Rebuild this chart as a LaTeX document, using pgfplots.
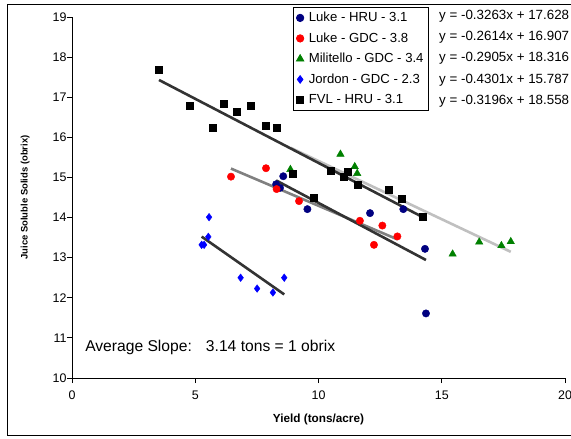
\documentclass[border=0pt]{standalone}
\usepackage{fontspec}
\setmainfont{Liberation Sans}
\usepackage{pgfplots}
\pgfplotsset{compat=1.18}
\definecolor{lukehru}{HTML}{000080}
\definecolor{lukegdc}{HTML}{FF0000}
\definecolor{milit}{HTML}{008000}
\definecolor{jordon}{HTML}{0000FF}
\definecolor{trdark}{HTML}{333333}
\definecolor{trmid}{HTML}{808080}
\definecolor{trlight}{HTML}{C0C0C0}

\begin{document}
\begin{tikzpicture}[x=1bp,y=1bp]
\begin{axis}[at={(72bp,61bp)}, anchor=south west,
  scale only axis, width=493bp, height=361bp,
  xmin=0, xmax=20, ymin=10, ymax=19,
  xtick={0,5,...,20}, ytick={10,11,...,19},
  axis x line=bottom, axis y line=left, axis line style={-, black, line width=0.8bp},
  tick align=outside, major tick length=5bp, tick style={black, line width=0.8bp},
  /pgf/number format/assume math mode=true,
  tick label style={font=\fontsize{12.5}{15}\selectfont},
  xticklabel style={yshift=-4bp}, yticklabel style={xshift=3bp},
  xlabel={Yield (tons/acre)}, ylabel={Juice Soluble Solids (obrix)},
  xlabel style={font=\bfseries\fontsize{11.8}{14}\selectfont, at={(axis description cs:0.5,-0.114)}, anchor=center},
  ylabel style={font=\bfseries\fontsize{9.5}{12}\selectfont, at={(axis description cs:-0.095,0.5)}, anchor=center},
  clip=false,
  legend style={at={(axis description cs:0.4483,1.0277)}, anchor=north west,
    draw=black, line width=0.8bp, font=\fontsize{13.2}{15}\selectfont,
    row sep=5.5bp, inner xsep=3bp, inner ysep=3bp,
    /tikz/every odd column/.append style={column sep=3bp}},
  legend cell align=left]
% Luke - HRU
\addplot[only marks, mark=*, mark size=3.7bp, mark options={fill=lukehru, draw=lukehru}] coordinates {
  (8.57,15.03) (8.28,14.83) (8.44,14.74) (9.55,14.21) (12.09,14.11) (13.44,14.21) (14.32,13.22) (14.36,11.61)};
\addlegendentry{Luke - HRU - 3.1}
% Luke - GDC
\addplot[only marks, mark=*, mark size=3.7bp, mark options={fill=lukegdc, draw=lukegdc}] coordinates {
  (6.45,15.02) (7.87,15.23) (8.30,14.71) (9.21,14.41) (11.68,13.92) (12.59,13.80) (13.20,13.53) (12.25,13.32)};
\addlegendentry{Luke - GDC - 3.8}
% Militello - GDC
\addplot[only marks, mark=triangle*, mark size=4.3bp, mark options={fill=milit, draw=milit}] coordinates {
  (8.86,15.20) (10.89,15.58) (11.47,15.27) (11.57,15.10) (15.44,13.09) (16.52,13.39) (17.42,13.30) (17.80,13.40)};
\addlegendentry{Militello - GDC - 3.4}
% Jordon - GDC
\addplot[only marks, mark=diamond*, mark size=3.8bp, mark options={fill=jordon, draw=jordon}] coordinates {
  (5.56,14.01) (5.53,13.52) (5.26,13.32) (5.36,13.32) (6.84,12.50) (7.51,12.23) (8.15,12.13) (8.61,12.50)};
\addlegendentry{Jordon - GDC - 2.3}
% FVL - HRU
\addplot[only marks, mark=square*, mark size=3.5bp, mark options={fill=black, draw=black}] coordinates {
  (3.53,17.69) (4.76,16.78) (5.72,16.23) (6.14,16.84) (6.67,16.63) (7.25,16.78) (7.87,16.28) (8.30,16.23)
  (8.94,15.09) (9.82,14.50) (10.51,15.17) (11.17,15.14) (11.01,15.02) (11.59,14.83) (12.83,14.70)
  (13.38,14.47) (14.24,14.01)};
\addlegendentry{FVL - HRU - 3.1}
% trendlines (end points of each fitted line over the series' range)
\addplot[forget plot, trlight, line width=2.6bp] coordinates {(8.86,15.742) (17.80,13.145)};
\addplot[forget plot, trmid, line width=2.6bp] coordinates {(6.45,15.221) (13.20,13.457)};
\addplot[forget plot, trdark, line width=2.6bp] coordinates {(8.28,14.926) (14.36,12.942)};
\addplot[forget plot, trdark, line width=2.6bp] coordinates {(5.26,13.525) (8.61,12.084)};
\addplot[forget plot, trdark, line width=2.6bp] coordinates {(3.53,17.430) (14.24,14.007)};
% equations
\begin{scope}[every node/.style={anchor=west, font=\fontsize{13.4}{15}\selectfont, inner sep=0pt}]
\node at (axis cs:14.89,19.02) {y = -0.3263x + 17.628};
\node at (axis cs:14.89,18.49) {y = -0.2614x + 16.907};
\node at (axis cs:14.89,17.96) {y = -0.2905x + 18.316};
\node at (axis cs:14.89,17.43) {y = -0.4301x + 15.787};
\node at (axis cs:14.89,16.90) {y = -0.3196x + 18.558};
\end{scope}
\node[anchor=west, inner sep=0pt, font=\fontsize{15.7}{18}\selectfont] at (axis cs:0.53,10.77)
  {Average Slope:\hspace{0.9em}3.14 tons = 1 obrix};
\end{axis}
\draw[black, line width=1bp] (575bp,3bp) -- (7.5bp,3bp) -- (7.5bp,434bp) -- (575bp,434bp);
\pgfresetboundingbox
\path[use as bounding box] (0bp,0bp) rectangle (571bp,439bp);
\end{tikzpicture}
\end{document}
